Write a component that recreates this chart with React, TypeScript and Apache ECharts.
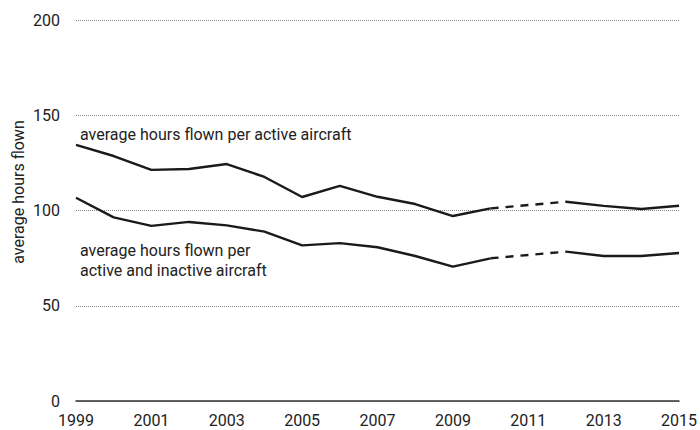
import React, { useEffect, useRef } from "react";
import * as echarts from "echarts";

const years = ["1999","2000","2001","2002","2003","2004","2005","2006","2007","2008","2009","2010","2011","2012","2013","2014","2015"];
const activeHours = [134.5, 128.6, 121.3, 121.8, 124.4, 117.6, 107.1, 112.9, 107.2, 103.4, 97.1, 101.1, null, 104.6, 102.4, 100.8, 102.5];
const allHours = [106.7, 96.4, 91.9, 94.0, 92.2, 88.9, 81.7, 82.9, 80.7, 76.1, 70.5, 74.9, null, 78.4, 76.1, 76.1, 77.7];
const activeGap = [null, null, null, null, null, null, null, null, null, null, null, 101.1, null, 104.6, null, null, null];
const allGap = [null, null, null, null, null, null, null, null, null, null, null, 74.9, null, 78.4, null, null, null];
const yTicks = [0, 50, 100, 150, 200];
const labelActive = "average hours flown per active aircraft";
const labelAll = "average hours flown per\nactive and inactive aircraft";
const yTitle = "average hours flown";

const FONT = "Roboto, 'Open Sans', sans-serif";
const FS = 16;

export default function App() {
  const ref = useRef<HTMLDivElement>(null);
  useEffect(() => {
    const chart = echarts.init(ref.current!, null, { renderer: "svg" });
    const lineStyle = { color: "#1a1a1a", width: 2.4 };
    chart.setOption({
      animation: false,
      backgroundColor: "#ffffff",
      grid: { left: 76, right: 17, top: 20, bottom: 29 },
      xAxis: {
        type: "category",
        data: years,
        boundaryGap: false,
        axisLine: { show: true, lineStyle: { color: "#333", width: 1.5 } },
        axisTick: { show: false },
        axisLabel: {
          interval: 1,
          color: "#222",
          fontSize: FS,
          fontFamily: FONT,
          margin: 11,
        },
        splitLine: { show: false },
      },
      yAxis: {
        type: "value",
        min: yTicks[0],
        max: yTicks[yTicks.length - 1],
        interval: 50,
        axisLine: { show: false },
        axisTick: { show: false },
        axisLabel: { color: "#222", fontSize: FS, fontFamily: FONT, margin: 16 },
        splitLine: { show: true, lineStyle: { color: "#888", width: 1, type: [1, 1] } },
      },
      series: [
        { type: "line", data: activeHours, showSymbol: false, connectNulls: false, lineStyle, z: 3 },
        { type: "line", data: allHours, showSymbol: false, connectNulls: false, lineStyle, z: 3 },
        {
          type: "line",
          data: activeGap,
          showSymbol: false,
          connectNulls: true,
          lineStyle: { ...lineStyle, type: [8, 7] },
          z: 3,
        },
        {
          type: "line",
          data: allGap,
          showSymbol: false,
          connectNulls: true,
          lineStyle: { ...lineStyle, type: [8, 7] },
          z: 3,
        },
      ],
      graphic: [
        {
          type: "text",
          x: 18,
          y: 192,
          rotation: Math.PI / 2,
          style: {
            text: yTitle,
            fill: "#222",
            fontSize: FS,
            fontFamily: FONT,
            align: "center",
            verticalAlign: "middle",
          },
        },
        {
          type: "text",
          left: 80,
          top: 126,
          style: { text: labelActive, fill: "#222", fontSize: FS, fontFamily: FONT },
        },
        {
          type: "text",
          left: 80,
          top: 240,
          style: { text: labelAll, fill: "#222", fontSize: FS, fontFamily: FONT, lineHeight: 20 },
        },
      ],
    });
    return () => chart.dispose();
  }, []);
  return <div ref={ref} style={{ width: 700, height: 430, position: "absolute", left: 0, top: 0 }} />;
}
